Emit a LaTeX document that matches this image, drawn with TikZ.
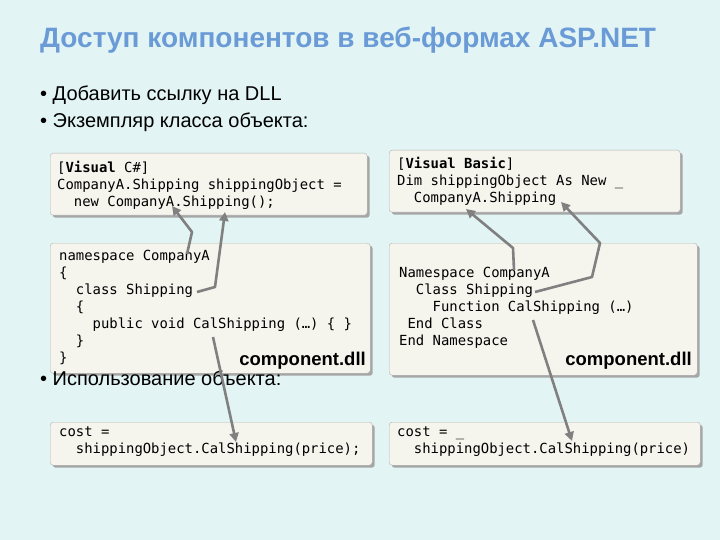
\documentclass[tikz,border=0pt]{standalone}
\usepackage{fontspec}
\setmainfont{Liberation Sans}
\setmonofont{DejaVu Sans Mono}
\usetikzlibrary{shadows,arrows.meta}
\definecolor{bg}{HTML}{E2F4F4}
\definecolor{boxfill}{HTML}{F5F5EE}
\definecolor{titlec}{HTML}{6A9BD6}
\definecolor{arrc}{HTML}{808080}
\begin{document}
\begin{tikzpicture}[x=1pt,y=-1pt,
  box/.style={draw=gray!60,fill=boxfill,rounded corners=3pt,inner sep=0pt,anchor=north west,
    drop shadow={shadow xshift=2.5pt,shadow yshift=-2.5pt,fill=gray!70,opacity=1}},
  code/.style={anchor=north west,inner sep=0pt,align=left,font=\ttfamily\fontsize{13.9}{17}\selectfont},
  dll/.style={anchor=south east,inner sep=0pt,font=\bfseries\fontsize{18.5}{20}\selectfont},
  bul/.style={anchor=west,inner sep=0pt,font=\fontsize{20}{22}\selectfont},
  arr/.style={draw=arrc,line width=2.6pt,line join=round,-{Triangle[width=9pt,length=9pt]}}]
\useasboundingbox[fill=bg] (0,0) rectangle (720,540);
\node[anchor=west,inner sep=0pt,text=titlec,font=\bfseries\fontsize{28}{30}\selectfont] (title) at (40,40) {Доступ компонентов в веб-формах ASP.NET};
\node[bul] (l1) at (40,95) {• Добавить ссылку на DLL};
\node[bul] (l2) at (40,122) {• Экземпляр класса объекта:};
% boxes
\node[box,minimum width=317pt,minimum height=62pt] (b1) at (50,153) {};
\node[box,minimum width=291pt,minimum height=62pt] (b2) at (389,150) {};
\node[box,minimum width=320pt,minimum height=130pt] (b3) at (50,243) {};
\node[box,minimum width=308pt,minimum height=132pt] (b4) at (389,243) {};
\node[bul] (l3) at (40,378) {• Использование объекта:};
\node[box,minimum width=322pt,minimum height=43pt] (b5) at (50,422) {};
\node[box,minimum width=311pt,minimum height=43pt] (b6) at (389,422) {};
% texts
\node[code] (t1) at (57,161) {[\textbf{Visual} C\#]\\CompanyA.Shipping shippingObject =\\\ \ new CompanyA.Shipping();};
\node[code] (t2) at (397,157) {[\textbf{Visual Basic}]\\Dim shippingObject As New \_\\\ \ CompanyA.Shipping};
\node[code] (t3) at (59,250) {namespace CompanyA\\\{\\\ \ class Shipping\\\ \ \{\\\ \ \ \ public void CalShipping (…) \{ \}\\\ \ \}\\\}};
\node[code] (t4) at (399,267) {Namespace CompanyA\\\ \ Class Shipping\\\ \ \ \ Function CalShipping (…)\\\ End Class\\End Namespace};
\node[dll] (d3) at (366,370) {component.dll};
\node[dll] (d4) at (692,370) {component.dll};
\node[code] (t5) at (59,427) {cost =\\\ \ shippingObject.CalShipping(price);};
\node[code] (t6) at (397,427) {cost = \_\\\ \ shippingObject.CalShipping(price)};
% arrow points
\coordinate (a1s) at (187,254); \coordinate (a1m) at (192,232); \coordinate (a1e) at (172,206);
\coordinate (a2s) at (197,292); \coordinate (a2m) at (215,287); \coordinate (a2e) at (225,212);
\coordinate (a3s) at (213,337); \coordinate (a3e) at (236,442);
\coordinate (a4s) at (514,270); \coordinate (a4m) at (513,248); \coordinate (a4e) at (466,209);
\coordinate (a5s) at (535,292); \coordinate (a5m) at (592,277); \coordinate (a5n) at (600,243); \coordinate (a5e) at (561,202);
\coordinate (a6s) at (533,320); \coordinate (a6e) at (572,441);
\draw[arr] (a1s) -- (a1m) -- (a1e);
\draw[arr] (a2s) -- (a2m) -- (a2e);
\draw[arr] (a3s) -- (a3e);
\draw[arr] (a4s) -- (a4m) -- (a4e);
\draw[arr] (a5s) -- (a5m) -- (a5n) -- (a5e);
\draw[arr] (a6s) -- (a6e);
\end{tikzpicture}
\end{document}
